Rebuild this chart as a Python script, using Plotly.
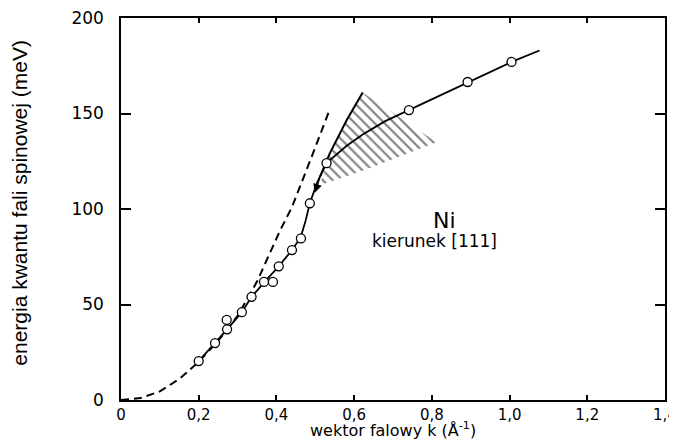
import plotly.graph_objects as go

# measured data points (open circles)
k_points = [0.200, 0.242, 0.273, 0.272, 0.311, 0.336, 0.368, 0.391, 0.406, 0.440, 0.463, 0.486, 0.529, 0.741, 0.892, 1.005]
E_points = [20.4, 29.8, 37.0, 41.9, 46.0, 54.0, 61.8, 61.8, 70.0, 78.5, 84.6, 103.0, 124.0, 151.8, 166.5, 177.0]

# solid curve through the data
k_solid = [0.200, 0.242, 0.273, 0.311, 0.336, 0.370, 0.406, 0.440, 0.462, 0.474, 0.486, 0.505, 0.529, 0.580, 0.622, 0.680, 0.741, 0.892, 1.005, 1.077]
E_solid = [20.4, 29.8, 37.0, 46.0, 54.0, 62.0, 70.0, 78.5, 85.0, 93.0, 103.0, 114.0, 124.0, 133.0, 139.0, 146.0, 151.8, 166.5, 177.0, 183.0]

# dashed curve (theory)
k_dash = [0.0, 0.05, 0.10, 0.15, 0.20, 0.25, 0.30, 0.35, 0.41, 0.44, 0.49, 0.537]
E_dash = [0.0, 1.0, 4.5, 11.0, 20.0, 31.0, 44.0, 62.0, 89.0, 101.0, 127.0, 152.0]

# hatched region boundary
k_hatch = [0.512, 0.537, 0.581, 0.622, 0.812, 0.725, 0.622, 0.519, 0.512]
E_hatch = [113.0, 129.0, 146.6, 161.0, 135.0, 128.0, 120.0, 113.0, 113.0]

# upper edge of hatched region (line leading to arrow)
k_edge = [0.622, 0.581, 0.537, 0.512]
E_edge = [161.0, 146.6, 129.0, 116.8]

x_ticks = [0, 0.2, 0.4, 0.6, 0.8, 1.0, 1.2, 1.4]
x_labels = ["0", "0,2", "0,4", "0,6", "0,8", "1,0", "1,2", "1,4"]
y_ticks = [0, 50, 100, 150, 200]
y_labels = ["0", "50", "100", "150", "200"]

fig = go.Figure()

fig.add_trace(go.Scatter(
    x=k_hatch, y=E_hatch, mode="lines", fill="toself",
    line=dict(width=0, color="rgba(0,0,0,0)"),
    fillcolor="rgba(255,255,255,0)",
    fillpattern=dict(shape="\\", fgcolor="black", bgcolor="rgba(255,255,255,0)",
                     size=7, solidity=0.3),
    hoverinfo="skip", showlegend=False))

fig.add_trace(go.Scatter(
    x=k_edge, y=E_edge, mode="lines",
    line=dict(color="black", width=2), showlegend=False))

fig.add_trace(go.Scatter(
    x=k_dash, y=E_dash, mode="lines",
    line=dict(color="black", width=2, dash="8px,5px"), showlegend=False))

fig.add_trace(go.Scatter(
    x=k_solid, y=E_solid, mode="lines",
    line=dict(color="black", width=1.8), showlegend=False))

fig.add_trace(go.Scatter(
    x=k_points, y=E_points, mode="markers",
    marker=dict(symbol="circle", size=9, color="white",
                line=dict(color="black", width=1.3)),
    showlegend=False))

fig.add_annotation(x=0.499, y=108.5, ax=0.512, ay=117.0,
                   xref="x", yref="y", axref="x", ayref="y",
                   showarrow=True, arrowhead=2, arrowsize=1.1,
                   arrowwidth=1.6, arrowcolor="black", text="")

fig.add_annotation(x=0.833, y=94, xref="x", yref="y", text="Ni",
                   showarrow=False, font=dict(family="DejaVu Sans", size=22, color="black"))
fig.add_annotation(x=0.807, y=83, xref="x", yref="y", text="kierunek [111]",
                   showarrow=False, font=dict(family="DejaVu Sans", size=17, color="black"))

# axis titles
fig.add_annotation(x=0.5, y=-0.077, xref="paper", yref="paper",
                   text="wektor falowy k (Å<sup>-1</sup>)", showarrow=False,
                   xanchor="center", yanchor="middle",
                   font=dict(family="DejaVu Sans", size=16, color="black"))
fig.add_annotation(x=-0.186, y=0.516, xref="paper", yref="paper",
                   text="energia kwantu fali spinowej (meV)", showarrow=False,
                   textangle=-90, xanchor="center", yanchor="middle",
                   font=dict(family="Liberation Sans Narrow, Liberation Sans", size=21, color="black"))

# page body has an 8 px margin: size the figure so the plot area lands where the reference has it
fig.update_layout(
    width=669, height=431,
    margin=dict(l=113, r=12, t=10, b=39),
    paper_bgcolor="white", plot_bgcolor="white",
    font=dict(family="DejaVu Sans", color="black"),
)

fig.update_xaxes(
    range=[0, 1.4], tickvals=x_ticks, ticktext=x_labels,
    ticks="inside", ticklen=5, tickwidth=1.5, tickcolor="black",
    showline=True, linecolor="black", linewidth=1.5, mirror="ticks",
    showgrid=False, zeroline=False, automargin=False, ticklabeloverflow="allow",
    tickfont=dict(family="DejaVu Sans", size=15, color="black"),
)
fig.update_yaxes(
    range=[0, 200], tickvals=y_ticks, ticktext=y_labels,
    ticks="inside", ticklen=10, tickwidth=1.5, tickcolor="black",
    showline=True, linecolor="black", linewidth=1.5, mirror="ticks",
    showgrid=False, zeroline=False, ticklabelstandoff=12, automargin=False,
    ticklabeloverflow="allow",
    tickfont=dict(family="DejaVu Sans", size=17, color="black"),
)

fig.write_html("out.html")
